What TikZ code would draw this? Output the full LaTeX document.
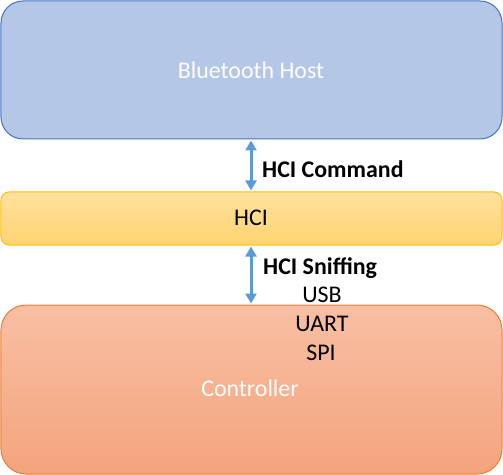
\documentclass[tikz,border=0pt]{standalone}
\usepackage{fontspec}
\setmainfont{Carlito}
\usetikzlibrary{arrows.meta}
\definecolor{hostfill}{HTML}{B4C7E7}
\definecolor{hostdraw}{HTML}{4472C4}
\definecolor{hcitop}{HTML}{FFE09E}
\definecolor{hcibot}{HTML}{FFD470}
\definecolor{hcidraw}{HTML}{FFC000}
\definecolor{ctltop}{HTML}{F8BFA4}
\definecolor{ctlbot}{HTML}{F4A47C}
\definecolor{ctldraw}{HTML}{ED7D31}
\definecolor{arrowblue}{HTML}{5B9BD5}
\tikzset{
  layerbox/.style={minimum width=501bp, inner sep=0pt, line width=1bp},
  lbl/.style={inner sep=0pt, font=\fontsize{24}{28}\selectfont},
  dblarrow/.style={{Triangle[width=11bp,length=10bp]}-{Triangle[width=11bp,length=10bp]}, line width=3bp, draw=arrowblue, shorten <=1bp, shorten >=1bp}
}
\begin{document}
\begin{tikzpicture}[x=1bp,y=-1bp]
\useasboundingbox (0,0) rectangle (503,475);
\node[layerbox, minimum height=138bp, rounded corners=22bp, draw=hostdraw, fill=hostfill] (host) at (251.5,70) {};
\node[layerbox, minimum height=53bp, rounded corners=8bp, draw=hcidraw, top color=hcitop, bottom color=hcibot] (hci) at (251.5,218.5) {};
\node[layerbox, minimum height=169bp, rounded corners=25bp, draw=ctldraw, top color=ctltop, bottom color=ctlbot] (ctl) at (251.5,389.5) {};
\node[lbl, text=white] (hosttxt) at (251,70) {Bluetooth Host};
\node[lbl] (hcitxt) at (251,218) {HCI};
\node[lbl, text=white] (ctltxt) at (250,388) {Controller};
\node[lbl, anchor=west, font=\fontsize{24}{28}\selectfont\bfseries] (cmd) at (262,169) {HCI Command};
\node[lbl, anchor=west, font=\fontsize{24}{28}\selectfont\bfseries] (snf) at (263,268) {HCI Sniffing};
\node[lbl] (usb) at (322,295) {USB};
\node[lbl] (uart) at (322,324) {UART};
\node[lbl] (spi) at (321,353) {SPI};
\draw[dblarrow] (host.south -| 251,0) -- (hci.north -| 251,0);
\draw[dblarrow] (hci.south -| 251,0) -- (ctl.north -| 251,0);
\end{tikzpicture}
\end{document}
